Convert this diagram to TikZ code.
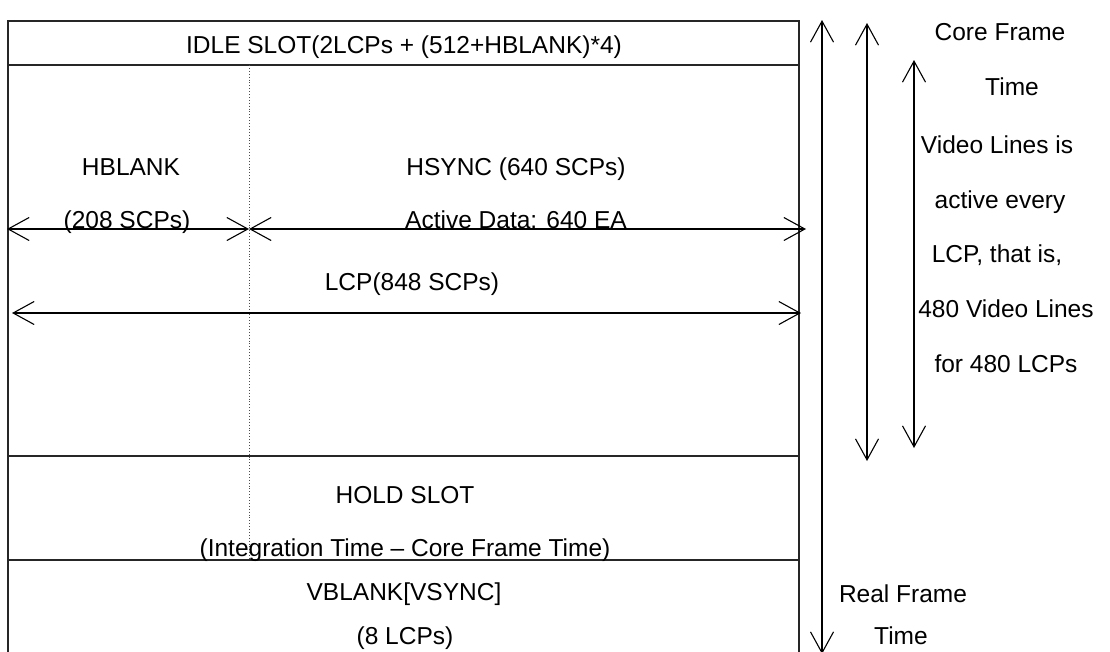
\documentclass[tikz,border=0pt]{standalone}
\usepackage{fontspec}
\setmainfont{Liberation Sans}
\usetikzlibrary{arrows.meta}
\begin{document}
\begin{tikzpicture}[x=1pt,y=-1pt,
  boxline/.style={line width=1.5pt, draw=black!85},
  dotline/.style={line width=0.9pt, dotted, draw=black!70},
  arr/.style={line width=1.1pt, {Straight Barb[length=21pt,width=23pt]}-{Straight Barb[length=21pt,width=23pt]}},
  lbl/.style={font=\fontsize{24.5}{28}\selectfont, inner sep=0pt, text height=17.5pt, text depth=0pt, anchor=center},
]
\clip (0,0) rectangle (1110,651);
\fill[white] (0,0) rectangle (1110,651);
% frame coordinates
\coordinate (tl) at (8,21);
\coordinate (tr) at (799,21);
\coordinate (bl) at (8,700);
\coordinate (br) at (799,700);
\coordinate (idleL) at (8,65);
\coordinate (idleR) at (799,65);
\coordinate (holdTL) at (8,456);
\coordinate (holdTR) at (799,456);
\coordinate (holdBL) at (8,560);
\coordinate (holdBR) at (799,560);
\coordinate (dotT) at (249,65);
\coordinate (dotB) at (249,560);
% frame
\draw[boxline] (bl) -- (tl) -- (tr) -- (br);
\draw[boxline] (idleL) -- (idleR);
\draw[boxline] (holdTL) -- (holdTR);
\draw[boxline] (holdBL) -- (holdBR);
\draw[dotline] (dotT) -- (dotB);
% horizontal arrows
\coordinate (hL) at (7,229);
\coordinate (hM) at (249,229);
\coordinate (hR) at (806,229);
\draw[arr] (hL) -- (hM);
\draw[arr] (hM) -- (hR);
\coordinate (lL) at (12,313);
\coordinate (lR) at (801,313);
\draw[arr] (lL) -- (lR);
% vertical arrows
\coordinate (rfT) at (822,20);
\coordinate (rfB) at (822,654);
\draw[arr] (rfT) -- (rfB);
\coordinate (cfT) at (867,23);
\coordinate (cfB) at (867,461);
\draw[arr] (cfT) -- (cfB);
\coordinate (vlT) at (914,60);
\coordinate (vlB) at (914,448);
\draw[arr] (vlT) -- (vlB);
% texts
\node[lbl] (idle) at (404,45) {IDLE SLOT(2LCPs + (512+HBLANK)*4)};
\node[lbl] (hblank) at (131,167) {HBLANK};
\node[lbl] (hbscp) at (127,220) {(208 SCPs)};
\node[lbl] (hsync) at (516,167) {HSYNC (640 SCPs)};
\node[lbl] (active) at (516,220) {Active Data: 640 EA};
\node[lbl] (lcp) at (412,282) {LCP(848 SCPs)};
\node[lbl] (hold) at (405,495) {HOLD SLOT};
\node[lbl] (integ) at (405,548) {(Integration Time – Core Frame Time)};
\node[lbl] (vblank) at (404,592) {VBLANK[VSYNC]};
\node[lbl] (vbl8) at (405,636) {(8 LCPs)};
\node[lbl] (cf1) at (1000,32) {Core Frame};
\node[lbl] (cf2) at (1012,87) {Time};
\node[lbl] (vl1) at (997,145) {Video Lines is};
\node[lbl] (vl2) at (1000,200) {active every};
\node[lbl] (vl3) at (997,254) {LCP, that is,};
\node[lbl] (vl4) at (1006,309) {480 Video Lines};
\node[lbl] (vl5) at (1006,364) {for 480 LCPs};
\node[lbl] (rf1) at (903,594) {Real Frame};
\node[lbl] (rf2) at (901,636) {Time};
\end{tikzpicture}
\end{document}
